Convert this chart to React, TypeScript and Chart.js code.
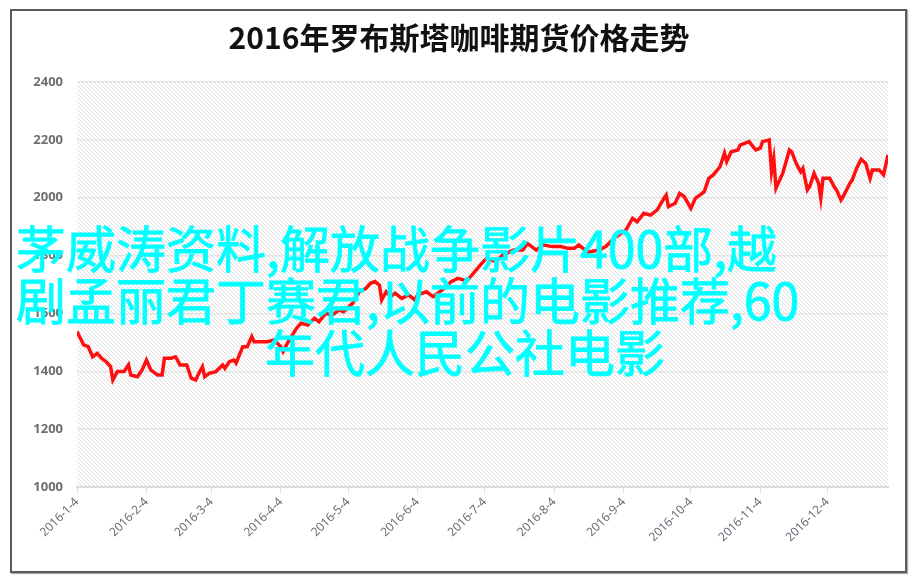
import React, { useEffect, useRef } from "react";
import { Chart, registerables } from "chart.js";

Chart.register(...registerables);

const chartTitle = "2016年罗布斯塔咖啡期货价格走势";
const overlayLines = [
  "茅威涛资料,解放战争影片400部,越",
  "剧孟丽君丁赛君,以前的电影推荐,60",
  "年代人民公社电影",
];

// day offset from 2016-1-4
const tickDays = [0, 31, 60, 91, 121, 152, 182, 213, 244, 274, 305, 335];
const tickLabels = [
  "2016-1-4", "2016-2-4", "2016-3-4", "2016-4-4", "2016-5-4", "2016-6-4",
  "2016-7-4", "2016-8-4", "2016-9-4", "2016-10-4", "2016-11-4", "2016-12-4",
];
const yTicks = [1000, 1200, 1400, 1600, 1800, 2000, 2200, 2400];

const days = [
  0, 3, 5, 7, 9, 11, 13, 15, 16, 18, 21, 23, 24, 27, 29, 31, 33, 36, 38, 39,
  42, 44, 46, 49, 51, 53, 54, 56, 57, 59, 62, 65, 66, 68, 70, 71, 74, 76, 78, 79,
  85, 88, 91, 92, 94, 98, 100, 103, 106, 108, 111, 114, 117, 119, 123, 126, 129, 131, 133, 135,
  136, 138, 140, 142, 145, 148, 151, 152, 156, 159, 163, 167, 170, 174, 177, 180, 183, 187, 190, 195,
  199, 201, 205, 208, 212, 216, 219, 222, 224, 228, 233, 236, 240, 245, 248, 250, 253, 256, 259, 262,
  263, 264, 267, 269, 271, 274, 276, 278, 280, 282, 284, 287, 289, 290, 292, 295, 296, 298, 300, 303,
  305, 306, 309, 310, 311, 312, 315, 318, 319, 321, 323, 324, 326, 327, 329, 331, 332, 333, 336, 338,
  339, 341, 342, 345, 346, 348, 350, 352, 354, 355, 358, 360, 362,
];
const prices = [
  1537, 1491, 1485, 1450, 1462, 1445, 1433, 1416, 1370, 1399, 1399, 1422, 1387, 1381, 1404, 1439, 1404, 1387, 1387, 1445,
  1445, 1450, 1422, 1422, 1376, 1370, 1387, 1416, 1381, 1393, 1399, 1422, 1410, 1433, 1439, 1428, 1485, 1485, 1520, 1502,
  1502, 1508, 1485, 1468, 1498, 1549, 1566, 1560, 1583, 1571, 1600, 1595, 1612, 1606, 1635, 1675, 1687, 1704, 1710, 1698,
  1646, 1675, 1658, 1670, 1652, 1664, 1646, 1664, 1675, 1658, 1681, 1710, 1721, 1712, 1739, 1767, 1792, 1778, 1802, 1819,
  1819, 1842, 1819, 1837, 1831, 1831, 1825, 1825, 1837, 1812, 1819, 1831, 1861, 1888, 1929, 1917, 1946, 1940, 1958, 1998,
  2009, 1969, 1981, 2015, 2004, 1963, 1998, 2009, 2021, 2067, 2079, 2107, 2154, 2125, 2159, 2165, 2182, 2188, 2194, 2165,
  2171, 2194, 2200, 2090, 2136, 2033, 2084, 2165, 2159, 2119, 2090, 2102, 2027, 2038, 2084, 2050, 1998, 2067, 2067, 2038,
  2027, 1992, 2004, 2050, 2061, 2102, 2133, 2119, 2067, 2096, 2096, 2079, 2148,
];

function makeHatch(): CanvasPattern | string {
  const n = 4;
  const c = document.createElement("canvas");
  c.width = n;
  c.height = n;
  const g = c.getContext("2d");
  if (!g) return "#f2f2f2";
  g.fillStyle = "#ffffff";
  g.fillRect(0, 0, n, n);
  g.fillStyle = "#dedede";
  for (let i = 0; i < n; i++) g.fillRect(i, i, 1, 1);
  const p = g.createPattern(c, "repeat");
  return p || "#f2f2f2";
}

export default function App() {
  const ref = useRef<HTMLCanvasElement | null>(null);

  useEffect(() => {
    if (!ref.current) return;
    const hatch = makeHatch();
    const bgPlugin = {
      id: "hatchBg",
      beforeDraw(chart: any) {
        const { ctx, chartArea } = chart;
        ctx.save();
        ctx.fillStyle = hatch;
        ctx.fillRect(chartArea.left, chartArea.top, chartArea.right - chartArea.left, chartArea.bottom - chartArea.top);
        ctx.restore();
      },
    };
    const chart = new Chart(ref.current, {
      type: "line",
      data: {
        datasets: [
          {
            data: days.map((d, i) => ({ x: d, y: prices[i] })),
            borderColor: "#ff1010",
            borderWidth: 3.5,
            pointRadius: 0,
            tension: 0,
            fill: false,
          },
        ],
      },
      plugins: [bgPlugin],
      options: {
        animation: false,
        responsive: false,
        maintainAspectRatio: false,
        layout: { padding: { left: 0, right: 0, top: 0, bottom: 12 } },
        plugins: {
          legend: { display: false },
          tooltip: { enabled: false },
          title: {
            display: true,
            text: chartTitle,
            color: "#111",
            font: { family: "'Noto Sans CJK SC'", size: 30, weight: "bold", lineHeight: 1.2 },
            padding: { top: 20, bottom: 26 },
          },
        },
        scales: {
          x: {
            type: "linear",
            min: 0,
            max: 362,
            afterBuildTicks: (scale: any) => {
              scale.ticks = tickDays.map((v) => ({ value: v }));
            },
            afterFit: (scale: any) => {
              scale.height = 84;
            },
            ticks: {
              autoSkip: false,
              minRotation: 45,
              maxRotation: 45,
              padding: 2,
              color: "#5f6670",
              font: { family: "'Open Sans'", size: 12 },
              callback: (v: any) => {
                const i = tickDays.indexOf(Number(v));
                return i >= 0 ? tickLabels[i] : "";
              },
            },
            grid: { drawOnChartArea: false, drawTicks: true, tickLength: 6, color: "#dddddd", lineWidth: 1 },
            border: { display: true, color: "#dddddd", width: 2 },
          },
          y: {
            type: "linear",
            min: 1000,
            max: 2400,
            afterBuildTicks: (scale: any) => {
              scale.ticks = yTicks.map((v) => ({ value: v }));
            },
            afterFit: (scale: any) => {
              scale.width = 77;
            },
            ticks: {
              padding: 14,
              color: "#6e6e6e",
              font: { family: "'Open Sans'", size: 13, weight: "bold" },
              callback: (v: any) => String(v),
            },
            grid: { drawTicks: false, color: "#e4e4e4", lineWidth: 1.5 },
            border: { display: false },
          },
          yRight: {
            type: "linear",
            position: "right",
            display: true,
            min: 0,
            max: 1,
            afterFit: (scale: any) => {
              scale.width = 30;
            },
            ticks: { display: false },
            grid: { display: false, drawTicks: false },
            border: { display: false },
          },
        },
      },
    } as any);
    return () => chart.destroy();
  }, []);

  return (
    <div style={{ position: "fixed", left: 0, top: 0, width: 918, height: 583, background: "#fff", overflow: "hidden" }}>
      <canvas ref={ref} width={918} height={583} style={{ position: "absolute", left: 0, top: 0, width: 918, height: 583 }} />
      <div
        style={{
          position: "absolute",
          left: 10,
          top: 9,
          width: 897,
          height: 564,
          boxSizing: "border-box",
          border: "2px solid #5a5a5a",
          boxShadow: "1px 1px 1px #aaa",
          pointerEvents: "none",
        }}
      />
      {overlayLines.map((t, i) => (
        <div
          key={i}
          style={{
            position: "absolute",
            left: [16, 16, 265][i],
            top: [220, 272, 324][i],
            fontFamily: "'Noto Sans CJK SC', sans-serif",
            fontSize: 50,
            lineHeight: "52px",
            color: "#00ffff",
            WebkitTextStroke: "0.8px #00ffff",
            whiteSpace: "nowrap",
            pointerEvents: "none",
          }}
        >
          {t}
        </div>
      ))}
    </div>
  );
}
